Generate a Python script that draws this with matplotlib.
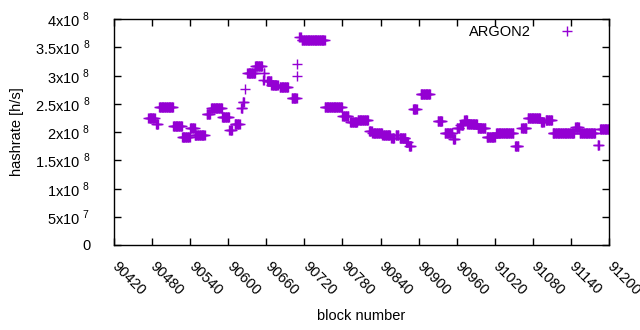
import numpy as np
import matplotlib
matplotlib.use("Agg")
import matplotlib.pyplot as plt
from matplotlib.transforms import ScaledTranslation

plt.rcParams['font.family'] = ['Liberation Sans', 'DejaVu Sans']
plt.rcParams['mathtext.fontset'] = 'custom'
plt.rcParams['mathtext.rm'] = 'Liberation Sans'

# hashrate plateaus: first block, last block, value (x1e8 h/s)
run_start = [90474, 90486, 90491, 90513, 90527, 90540, 90547, 90566, 90573, 90590,
             90602, 90610, 90620, 90623, 90626, 90630, 90642, 90655, 90656, 90661,
             90668, 90681, 90700, 90708, 90709, 90712, 90716, 90752, 90780, 90792,
             90804, 90822, 90827, 90843, 90857, 90864, 90870, 90880, 90885, 90891,
             90903, 90930, 90941, 90954, 90960, 90966, 90972, 90977, 90993, 91007,
             91022, 91052, 91062, 91072, 91093, 91100, 91111, 91147, 91154, 91182,
             91186]
run_end = [90484, 90489, 90513, 90527, 90539, 90547, 90563, 90571, 90590, 90601,
           90606, 90618, 90622, 90625, 90626, 90642, 90653, 90656, 90657, 90668,
           90678, 90694, 90708, 90708, 90709, 90714, 90752, 90779, 90789, 90803,
           90820, 90826, 90842, 90855, 90861, 90868, 90879, 90883, 90888, 90897,
           90918, 90937, 90953, 90957, 90964, 90970, 90976, 90992, 91005, 91020,
           91049, 91057, 91070, 91091, 91097, 91110, 91145, 91152, 91178, 91184,
           91200]
run_value = [2.25, 2.14, 2.44, 2.10, 1.91, 2.07, 1.94, 2.31, 2.42, 2.26,
             2.04, 2.15, 2.42, 2.53, 2.76, 3.04, 3.16, 2.92, 3.04, 2.91,
             2.84, 2.79, 2.61, 2.99, 3.20, 3.68, 3.62, 2.44, 2.29, 2.18,
             2.21, 2.02, 1.99, 1.95, 1.89, 1.95, 1.89, 1.83, 1.75, 2.41,
             2.68, 2.20, 1.98, 1.87, 2.07, 2.12, 2.22, 2.14, 2.07, 1.92,
             1.98, 1.75, 2.07, 2.24, 2.17, 2.22, 1.99, 2.08, 1.99, 1.77,
             2.05]

x_ticks = list(range(90420, 91201, 60))
y_ticks = [0, 5e7, 1e8, 1.5e8, 2e8, 2.5e8, 3e8, 3.5e8, 4e8]
y_labels = ['0', '5x10 $^{7}$', '1x10 $^{8}$', '1.5x10 $^{8}$', '2x10 $^{8}$',
            '2.5x10 $^{8}$', '3x10 $^{8}$', '3.5x10 $^{8}$', '4x10 $^{8}$']

blocks = []
rates = []
for s, e, v in zip(run_start, run_end, run_value):
    for b in range(s, e + 1):
        blocks.append(b)
        rates.append(v * 1e8)

fig = plt.figure(figsize=(6.4, 3.3), dpi=100)
ax = fig.add_axes([114 / 640, 85 / 330, 495 / 640, 226 / 330])
ax.plot(blocks, rates, '+', color='#9400D3', ms=6.5, mew=1, label='ARGON2')

ax.set_xlim(90420, 91200)
ax.set_ylim(0, 4e8)
ax.set_xticks(x_ticks)
ax.set_xticklabels([str(t) for t in x_ticks], rotation=-45, ha='left', va='top',
                   rotation_mode='anchor')
ax.set_yticks(y_ticks)
ax.set_yticklabels(y_labels)
ax.tick_params(direction='in', length=5, width=1, top=True, right=True,
               labelsize=10.5, colors='black')
ax.tick_params(axis='x', pad=9)
ax.tick_params(axis='y', pad=17)
shift = ScaledTranslation(4 / 72, -1 / 72, fig.dpi_scale_trans)
for lab in ax.get_xticklabels():
    lab.set_transform(lab.get_transform() + shift)
for sp in ax.spines.values():
    sp.set_linewidth(1)

ax.set_xlabel('block number', fontsize=10.5)
ax.xaxis.set_label_coords(0.5, -0.285)
ax.set_ylabel('hashrate [h/s]', fontsize=10.5)
ax.yaxis.set_label_coords(-0.182, 0.5)
ax.legend(loc='upper right', bbox_to_anchor=(0.978, 1.0), borderaxespad=0,
          frameon=False, markerfirst=False, fontsize=10.5, handlelength=3.4)

fig.savefig('out.png', dpi=100)
